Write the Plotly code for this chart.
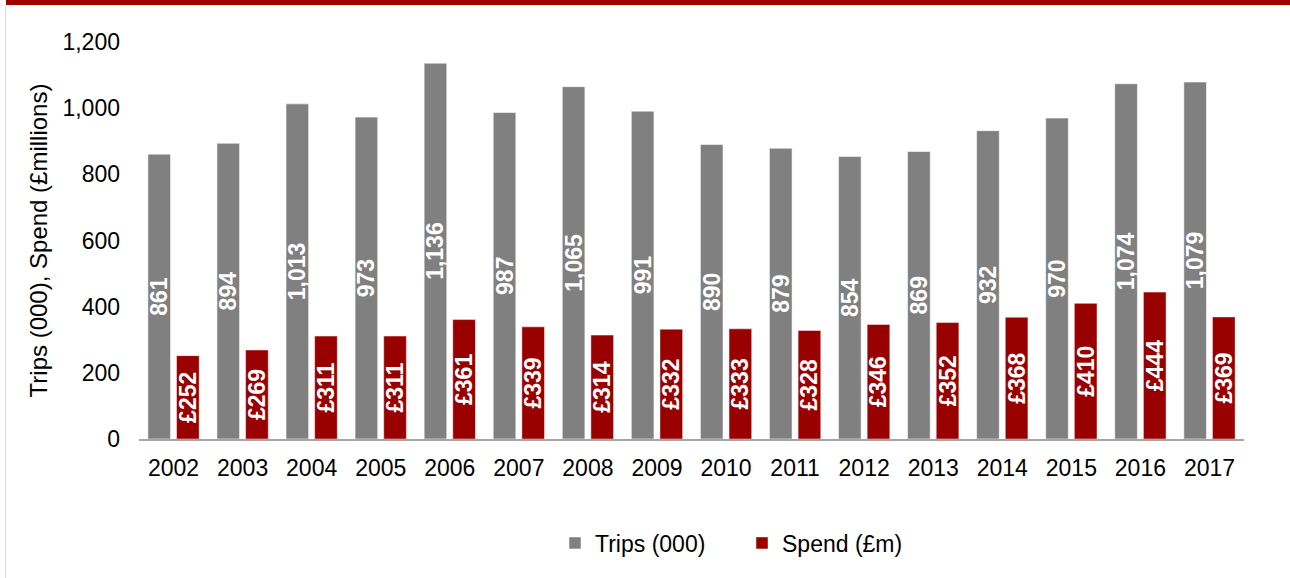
import plotly.graph_objects as go

# Annual figures
years = ["2002", "2003", "2004", "2005", "2006", "2007", "2008", "2009",
         "2010", "2011", "2012", "2013", "2014", "2015", "2016", "2017"]
trips = [861, 894, 1013, 973, 1136, 987, 1065, 991, 890, 879, 854, 869, 932, 970, 1074, 1079]
spend = [252, 269, 311, 311, 361, 339, 314, 332, 333, 328, 346, 352, 368, 410, 444, 369]
y_ticks = [0, 200, 400, 600, 800, 1000, 1200]
y_tick_text = ["0", "200", "400", "600", "800", "1,000", "1,200"]

W, H = 1290, 578
ML, MR, MT, MB = 139, 46, 42, 139
PW, PH = W - ML - MR, H - MT - MB

GREY = "#808080"
RED = "#990000"
FONT = "Liberation Sans, Arial, sans-serif"


def px_x(p):
    return (p - ML) / PW


def px_y(p):
    return (H - MB - p) / PH


label_font = dict(family=FONT, size=23, color="white", weight="bold")

fig = go.Figure()
fig.add_trace(go.Bar(
    name="Trips (000)", x=years, y=trips,
    marker=dict(color=GREY, line=dict(color="rgba(255,255,255,0.55)", width=1)),
    texttemplate="%{y:,}", textposition="inside", insidetextanchor="middle",
    textangle=-90, constraintext="none", insidetextfont=label_font,
    hoverinfo="skip",
))
fig.add_trace(go.Bar(
    name="Spend (£m)", x=years, y=spend,
    marker=dict(color=RED, line=dict(color="rgba(255,255,255,0.45)", width=1)),
    texttemplate="£%{y}", textposition="inside", insidetextanchor="middle",
    textangle=-90, constraintext="none", insidetextfont=label_font,
    hoverinfo="skip",
))

fig.update_layout(
    width=W, height=H,
    margin=dict(l=ML, r=MR, t=MT, b=MB, autoexpand=False),
    paper_bgcolor="white", plot_bgcolor="white",
    barmode="group", bargap=0.17, bargroupgap=0.21,
    font=dict(family=FONT, color="#000000", size=23),
    showlegend=True,
    legend=dict(
        orientation="h", x=px_x(555), xanchor="left",
        y=px_y(543), yanchor="middle",
        entrywidth=142,
        font=dict(family=FONT, size=23, color="#000000"),
        bgcolor="rgba(0,0,0,0)",
    ),
    xaxis=dict(
        type="category", showgrid=False, zeroline=False,
        showline=True, linecolor="#A6A6A6", linewidth=1.5,
        ticks="", ticklabelstandoff=8,
        tickfont=dict(family=FONT, size=23, color="#000000"),
        fixedrange=True,
    ),
    yaxis=dict(
        range=[0, 1200], tickvals=y_ticks, ticktext=y_tick_text,
        showgrid=False, zeroline=False, showline=False,
        ticks="", ticklabelstandoff=18,
        tickfont=dict(family=FONT, size=23, color="#000000"),
        title=dict(text="Trips (000), Spend (£millions)",
                   font=dict(family=FONT, size=24, color="#000000"),
                   standoff=8),
        fixedrange=True,
    ),
    shapes=[
        # red band across the top edge
        dict(type="rect", xref="paper", yref="paper",
             x0=px_x(6), x1=px_x(W), y0=px_y(5), y1=px_y(0),
             fillcolor="#A00000", line=dict(width=0), layer="above"),
        # thin frame line on the left edge
        dict(type="line", xref="paper", yref="paper",
             x0=px_x(5.5), x1=px_x(5.5), y0=px_y(H), y1=px_y(5),
             line=dict(color="#E3E3E3", width=1.5), layer="above"),
    ],
)

fig.write_html("out.html", include_plotlyjs=True, config={"displayModeBar": False})
